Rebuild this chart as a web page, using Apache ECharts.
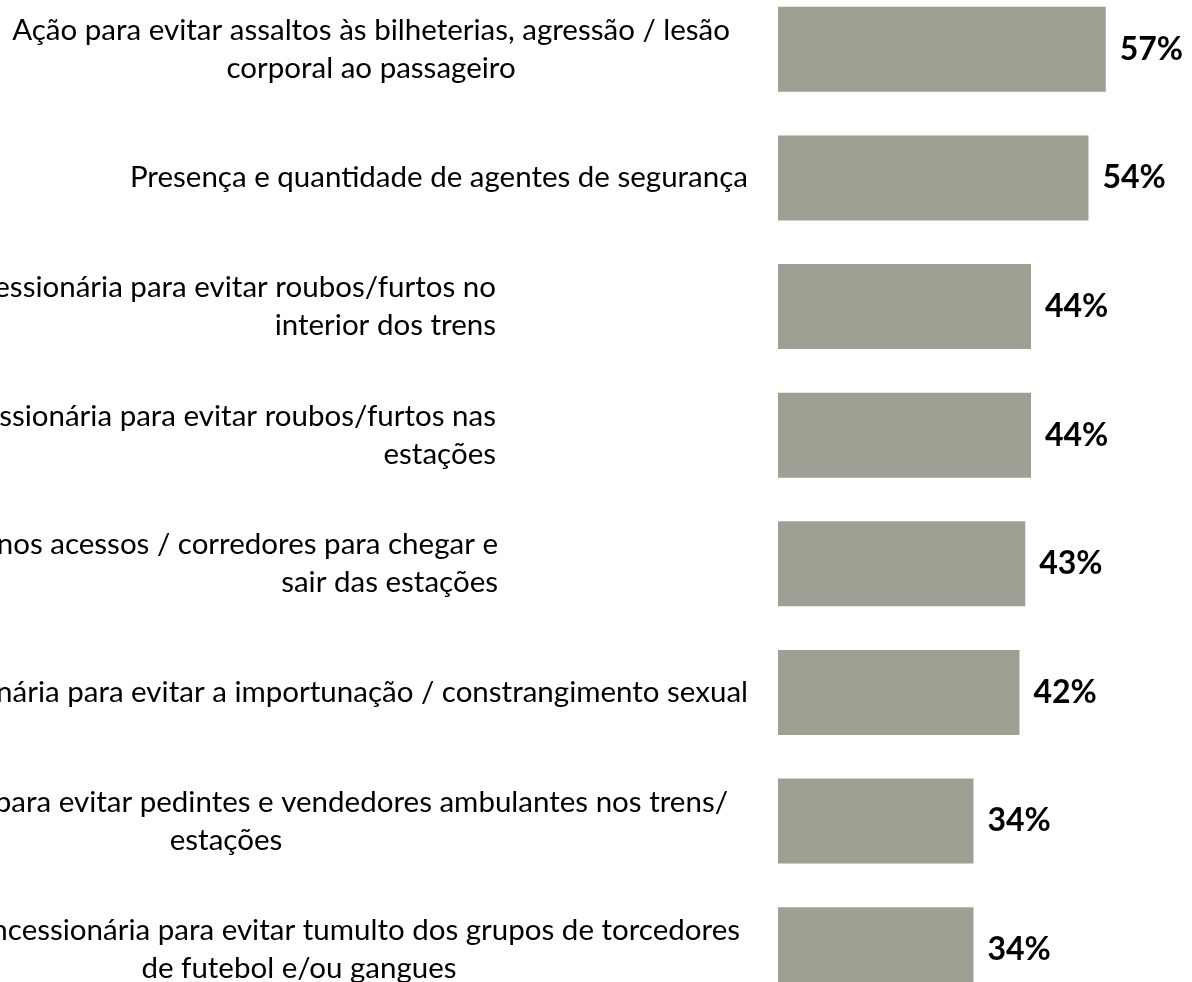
<!DOCTYPE html>
<html>
<head>
<meta charset="utf-8">
<script src="https://cdn.jsdelivr.net/npm/echarts@6/dist/echarts.min.js"></script>
<style>
html,body{margin:0;padding:0;background:#fff;}
#chart{width:1192px;height:982px;}
</style>
</head>
<body>
<div id="chart"></div>
<script>
// ---- data ----
const categories = [
  'Ação para evitar assaltos às bilheterias, agressão / lesão\ncorporal ao passageiro',
  'Presença e quantidade de agentes de segurança',
  'essionária para evitar roubos/furtos no\ninterior dos trens',
  'ssionária para evitar roubos/furtos nas\nestações',
  'nos acessos / corredores para chegar e\nsair das estações',
  'nária para evitar a importunação / constrangimento sexual',
  'para evitar pedintes e vendedores ambulantes nos trens/\nestações',
  'ncessionária para evitar tumulto dos grupos de torcedores\nde futebol e/ou gangues'
];
const values = [57, 54, 44, 44, 43, 42, 34, 34];

// ---- label layout (style only) ----
const labelLayout = [
  {gap: 18, lines: ['center', 'center']},
  {gap: 0, lines: ['right']},
  {gap: 252, lines: ['right', 'right']},
  {gap: 252, lines: ['right', 'right']},
  {gap: 250, lines: ['right', 'right']},
  {gap: 0, lines: ['right']},
  {gap: 20, box: 1024, lines: ['right', 'center']},
  {gap: 8, box: 890, lines: ['right', 'center']}
];

const FONT = 'Lato';
const FS = 29.5;
const LH = 38;
const rich = {};
labelLayout.forEach((L, i) => {
  L.lines.forEach((a, j) => {
    const st = {align: a, fontFamily: FONT, fontSize: FS, lineHeight: LH, color: '#000'};
    if (L.box && j === 0) st.width = L.box - L.gap;
    rich['t' + i + '_' + j] = st;
  });
  if (L.gap) rich['s' + i] = {align: 'right', width: L.gap, fontFamily: FONT, fontSize: FS, lineHeight: LH};
});

function fmt(value, idx) {
  const L = labelLayout[idx];
  return value.split('\n').map((line, j) => {
    let s = '{t' + idx + '_' + j + '|' + line + '}';
    if (L.gap) s += '{s' + idx + '| }';
    return s;
  }).join('\n');
}

const chart = echarts.init(document.getElementById('chart'), null, {renderer: 'canvas'});
chart.setOption({
  animation: false,
  backgroundColor: '#ffffff',
  grid: {left: 778, right: 69, top: -15, bottom: -32, containLabel: false, outerBoundsMode: 'none'},
  xAxis: {type: 'value', min: 0, max: 60, show: false},
  yAxis: {
    type: 'category',
    data: categories,
    inverse: true,
    axisLine: {show: false},
    axisTick: {show: false},
    splitLine: {show: false},
    axisLabel: {interval: 0, margin: 30, formatter: fmt, rich: rich}
  },
  series: [{
    type: 'bar',
    data: values,
    barWidth: 85,
    itemStyle: {color: '#A09F93'},
    label: {
      show: true,
      position: 'right',
      distance: 14,
      formatter: '{c}%',
      fontFamily: FONT,
      fontWeight: 'bold',
      fontSize: 32,
      color: '#000'
    }
  }]
});
</script>
</body>
</html>
